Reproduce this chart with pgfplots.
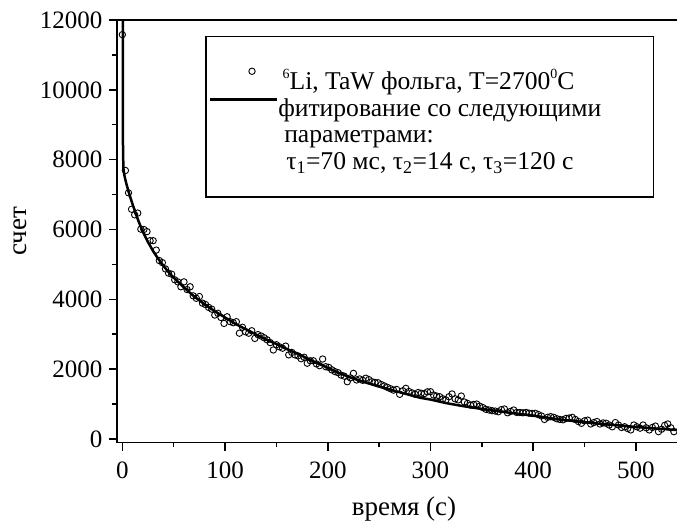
\documentclass[border=0pt]{standalone}
\usepackage{fontspec}
\setmainfont{Liberation Serif}
\usepackage{pgfplots}
\usepackage{pgfplotstable}
\pgfplotsset{compat=1.18}
\usetikzlibrary{calc}
\newcommand{\sups}[1]{\raisebox{0.42em}{\fontsize{14}{14}\selectfont #1}}
\pgfplotsset{
  legmark/.style={legend image code/.code={\draw[##1, mark repeat=2, mark phase=2] plot coordinates {(0pt,5.5pt) (42pt,5.5pt) (67pt,5.5pt)};}},
  legline/.style={legend image code/.code={\draw[##1] (0pt,4pt) -- (67pt,4pt);}},
}
\pgfplotstableread{
t y
0 11580
3 7690
6 7050
9 6580
12 6420
15 6470
18 6010
21 6000
24 5940
27 5680
30 5680
33 5410
36 5110
39 5050
42 4870
45 4750
48 4720
51 4560
54 4500
57 4360
60 4500
63 4280
66 4360
69 4100
72 4030
75 4080
78 3890
81 3850
84 3770
87 3720
90 3550
93 3600
96 3480
99 3310
102 3500
105 3360
108 3330
111 3360
114 3030
117 3200
120 3070
123 3030
126 3100
129 2880
132 2990
135 2950
138 2900
141 2840
144 2760
147 2550
150 2700
153 2640
156 2600
159 2660
162 2410
165 2480
168 2410
171 2380
174 2300
177 2340
180 2170
183 2240
186 2240
189 2150
192 2100
195 2290
198 2070
201 2050
204 1980
207 1930
210 1900
213 1830
216 1800
219 1640
222 1750
225 1880
228 1690
231 1720
234 1680
237 1740
240 1700
243 1640
246 1620
249 1610
252 1560
255 1520
258 1480
261 1440
264 1400
267 1420
270 1280
273 1380
276 1450
279 1360
282 1320
285 1280
288 1330
291 1310
294 1300
297 1350
300 1355
303 1260
306 1230
309 1210
312 1150
315 1120
318 1210
321 1290
324 1150
327 1120
330 1230
333 1060
336 1020
339 970
342 990
345 1000
348 940
351 900
354 850
357 830
360 810
363 800
366 780
369 840
372 860
375 750
378 790
381 830
384 760
387 760
390 750
393 760
396 740
399 730
402 735
405 700
408 660
411 560
414 620
417 640
420 620
423 580
426 560
429 550
432 590
435 600
438 620
441 560
444 500
447 450
450 520
453 540
456 430
459 470
462 500
465 430
468 460
471 450
474 400
477 350
480 470
483 400
486 330
489 350
492 300
495 260
498 400
501 350
504 310
507 400
510 320
513 260
516 330
519 370
522 210
525 280
528 390
531 430
534 320
537 210
}\measured
\pgfplotstableread{
t y
0.4 12600
0.6 8500
1 7750
2 7550
3 7420
4 7300
6 7090
8 6900
10 6720
13 6460
16 6220
20 5930
25 5640
30 5380
35 5160
40 4960
45 4780
50 4620
60 4340
70 4080
80 3860
90 3660
100 3480
110 3300
125 3070
140 2850
150 2720
160 2580
175 2380
190 2170
200 2040
210 1900
225 1730
240 1590
250 1500
260 1420
275 1300
290 1180
300 1130
315 1030
330 950
350 860
375 760
400 670
425 560
450 480
475 410
500 345
520 300
540 258
}\fitted
\begin{document}
\fontsize{25}{30}\selectfont
\begin{tikzpicture}
\begin{axis}[
  scale only axis,
  width=560pt, height=422.7pt,
  xmin=-5.2, xmax=540, ymin=-106, ymax=12000,
  axis x line*=box, axis y line*=left,
  axis line style={line width=1.5pt},
  xtick={0,100,200,300,400,500},
  ytick={0,2000,4000,6000,8000,10000,12000},
  minor x tick num=1, minor y tick num=1,
  xtick pos=left, ytick pos=left,
  tick align=outside,
  major tick length=8pt, minor tick length=4.5pt,
  every tick/.style={line width=1.5pt, black},
  tick label style={font=\fontsize{25}{30}\selectfont},
  xticklabel shift=3pt, yticklabel shift=-2pt,
  scaled ticks=false,
  /pgf/number format/.cd, 1000 sep={}, assume math mode=true,
  /pgfplots/.cd,
  xlabel={время (с)}, ylabel={счет},
  label style={font=\fontsize{27}{32}\selectfont},
  xlabel style={xshift=7pt, yshift=-0.5pt},
  ylabel shift=-4pt,
  legend cell align=left,
  legend style={
    at={(axis cs:80.5,11542)}, anchor=north west,
    draw=black, line width=1.5pt,
    inner xsep=3pt, inner ysep=26.7pt,
    row sep=0pt,
    font=\fontsize{25.6}{30}\selectfont,
    nodes={text height=26pt, text depth=0.67pt, inner sep=0pt},
  },
]
\addplot[only marks, mark=o, mark size=3.2pt, mark options={line width=0.9pt, black}, legmark]
  table[x=t, y=y] {\measured};
\addlegendentry{\hspace{4.4pt}\sups{6}Li, TaW фольга, T=2700\sups{0}C}
\addplot[black, line width=2.5pt, no marks, legline]
  table[x=t, y=y] {\fitted};
\addlegendentry{фитирование со следующими\hspace*{49pt}}
\addlegendimage{empty legend}
\addlegendentry{\hspace{6pt}параметрами:}
\addlegendimage{empty legend}
\addlegendentry{\hspace{8pt}τ\textsubscript{1}=70 мс, τ\textsubscript{2}=14 с, τ\textsubscript{3}=120 с}
\end{axis}
\pgfresetboundingbox
\path ($(current axis.south west)+(-117pt,-78.3pt)$) rectangle ($(current axis.north east)+(0pt,20pt)$);
\end{tikzpicture}
\end{document}
